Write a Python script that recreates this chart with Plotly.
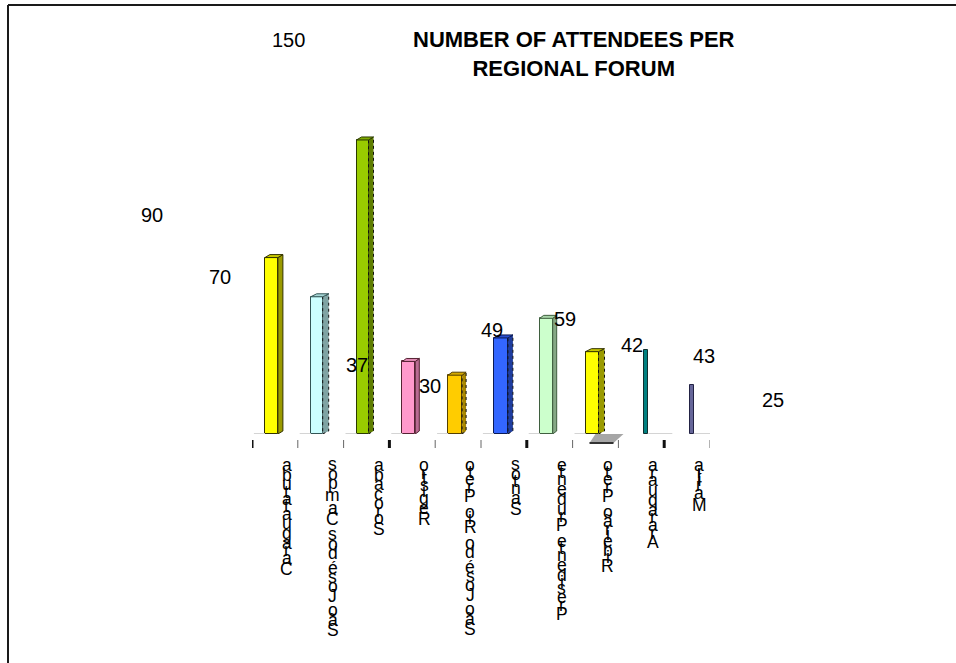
import plotly.graph_objects as go

# ---- data -------------------------------------------------------------
regions = ["Caraguatatuba", "São José dos Campos", "Sorocaba", "Registro",
           "São José do Rio Preto", "Santos", "Presidente Prudente",
           "Ribeirão Preto", "Araraquara", "Marília"]
attendees = [90, 70, 150, 37, 30, 49, 59, 42, 43, 25]
chart_title = "NUMBER OF ATTENDEES PER<br>REGIONAL FORUM"

# ---- styling ----------------------------------------------------------
face_colors = ["#FFFF00", "#CCFFFF", "#99CC00", "#FF99CC", "#FFCC00",
               "#3366FF", "#CCFFCC", "#FFFF00", "#008080", "#666699"]
side_colors = ["#9A9A00", "#7FA3A3", "#5E7D00", "#B86B92", "#A88600",
               "#1F3D9E", "#86A886", "#9A9A00", "#004C4C", "#3F3F66"]
top_colors = ["#C8C800", "#A6D6D6", "#7FAA00", "#E089B3", "#D4A800",
              "#2A4FCC", "#A8D4A8", "#C8C800", "#006666", "#505080"]
edge_colors = ["#333300", "#335555", "#2A3A00", "#552233", "#554000",
               "#0A1A55", "#3F5F3F", "#333300", "#0F2F2F", "#222244"]
side_dash = ["solid", "dot", "dot", "solid", "dot",
             "dot", "solid", "dot", "solid", "solid"]

face_left_px = [-10, -10, -10, -10, -10, -10, -10, -10, 3, 3]
face_w_px = [13, 12, 12, 13, 14, 14, 13, 13, 4, 4]
side_w_px = [5, 6, 5, 4, 4, 5, 4, 6, 0, 0]
rise_px = [3, 3, 3, 3, 3, 3, 3, 3, 0, 0]

# value labels drift across the chart (pixel shifts from each bar top)
label_dx = [-123, -101, -78, -55, -28, -12, 15, 36, 63, 86]
label_dy = [43, 20, 100, -4, -11, 8, -1, 7, -6, -15]

# ---- geometry ---------------------------------------------------------
W, H = 956, 663
ML, MR, MT, MB = 252, 246, 40, 229
PW, PH = W - ML - MR, H - MT - MB
Y_TOP = 201
ux = 10 / PW   # x data units per pixel
uy = Y_TOP / PH  # y data units per pixel

FONT = "Arial, Liberation Sans, sans-serif"

fig = go.Figure()

# bar fronts
fig.add_trace(go.Bar(
    x=list(range(len(regions))), y=attendees,
    width=[w * ux for w in face_w_px],
    offset=[l * ux for l in face_left_px],
    marker=dict(color=face_colors, line=dict(color=edge_colors, width=1)),
    hoverinfo="skip", showlegend=False,
))

# bar sides and tops (3D look)
for i, v in enumerate(attendees):
    d = side_w_px[i] * ux
    r = rise_px[i] * uy
    if d == 0:
        continue
    xl = i + face_left_px[i] * ux
    xr = xl + face_w_px[i] * ux
    fig.add_trace(go.Scatter(
        x=[xr, xr + d, xr + d, xr, xr], y=[0, r, v + r, v, 0],
        mode="lines", fill="toself", fillcolor=side_colors[i],
        line=dict(color="#111111" if side_dash[i] == "dot" else edge_colors[i],
                  width=1, dash=side_dash[i]),
        hoverinfo="skip", showlegend=False))
    fig.add_trace(go.Scatter(
        x=[xl, xr, xr + d, xl + d, xl], y=[v, v, v + r, v + r, v],
        mode="lines", fill="toself", fillcolor=top_colors[i],
        line=dict(color=edge_colors[i], width=1),
        hoverinfo="skip", showlegend=False))

annotations = []

# value labels
for i, v in enumerate(attendees):
    annotations.append(dict(
        x=i, y=v, xref="x", yref="y", text=str(v), showarrow=False,
        xanchor="center", yanchor="middle",
        xshift=label_dx[i], yshift=label_dy[i],
        font=dict(family=FONT, size=20, color="#000000")))

# category labels: upright glyphs stacked along a rotated baseline
ADV = {" ": 278, "a": 556, "b": 556, "c": 500, "d": 556, "e": 556, "g": 556,
       "i": 222, "l": 222, "m": 833, "n": 556, "o": 556, "p": 556, "r": 333,
       "s": 500, "t": 278, "u": 556, "ã": 556, "é": 556, "í": 278,
       "C": 722, "S": 667, "J": 500, "R": 722, "P": 667, "A": 667, "M": 833}
LBL_SIZE = 17.5
LBL_TOP = 27  # px below the floor where the stack begins
for i, name in enumerate(regions):
    pos = LBL_TOP
    for ch in reversed(name):
        adv = ADV.get(ch, 556) / 1000 * LBL_SIZE
        if ch != " ":
            annotations.append(dict(
                x=i, y=0, xref="x", yref="paper", text=ch, showarrow=False,
                xanchor="center", yanchor="middle",
                xshift=12, yshift=-(pos + adv / 2) + 1,
                font=dict(family=FONT, size=LBL_SIZE, color="#000000")))
        pos += adv

# title
annotations.append(dict(
    x=(574 - ML) / PW, y=(H - MB - 54) / PH, xref="paper", yref="paper",
    text="<b>" + chart_title + "</b>", showarrow=False,
    xanchor="center", yanchor="middle", align="center",
    font=dict(family=FONT, size=22, color="#000000")))

shapes = []
# outer frame (left and top edges)
fx = (8 - ML) / PW
fy = (H - MB - 5) / PH
shapes.append(dict(type="line", xref="paper", yref="paper",
                   x0=fx, y0=fy, x1=(W + 10 - ML) / PW, y1=fy,
                   line=dict(color="#1A1A1A", width=2)))
shapes.append(dict(type="line", xref="paper", yref="paper",
                   x0=fx, y0=fy, x1=fx, y1=-(MB + 10) / PH,
                   line=dict(color="#1A1A1A", width=2)))

# floor traces beside each bar
for i in range(len(regions)):
    if side_w_px[i] > 0:
        a = i + (face_left_px[i] - 11) * ux
        b = i + face_left_px[i] * ux
    else:
        a = i + (face_left_px[i] + face_w_px[i]) * ux
        b = a + 24 * ux
    shapes.append(dict(type="line", xref="x", yref="y", x0=a, x1=b, y0=0, y1=0,
                       line=dict(color="#D4D4D4", width=2)))

# floor shadow under the Ribeirão Preto column
k = regions.index("Ribeirão Preto")
shapes.append(dict(type="path", xref="x", yref="paper", layer="above",
                   path=f"M {k + 0*ux},0 L {k + 28*ux},0 L {k + 18*ux},{-9/PH} "
                        f"L {k - 6*ux},{-9/PH} Z",
                   fillcolor="#A6A6A6", line=dict(width=0)))
shapes.append(dict(type="line", xref="x", yref="paper",
                   x0=k - 6*ux, x1=k + 18*ux, y0=-9/PH, y1=-9/PH,
                   line=dict(color="#333333", width=2)))

# category boundary ticks, heavier on every third
for j in range(len(regions) + 1):
    heavy = j % 3 == 0
    shapes.append(dict(type="line", xref="x", yref="paper",
                       x0=j - 0.5, x1=j - 0.5, y0=-6 / PH, y1=-14 / PH,
                       line=dict(color="#111111" if heavy else "#666666",
                                 width=3 if heavy else 1)))

fig.update_layout(
    width=W, height=H,
    margin=dict(l=ML, r=MR, t=MT, b=MB, pad=0),
    paper_bgcolor="#FFFFFF", plot_bgcolor="#FFFFFF",
    xaxis=dict(range=[-0.5, len(regions) - 0.5], visible=False, fixedrange=True),
    yaxis=dict(range=[0, Y_TOP], visible=False, fixedrange=True),
    annotations=annotations, shapes=shapes,
    showlegend=False, bargap=0,
)

fig.write_html("out.html", include_plotlyjs=True, config={"displayModeBar": False})
